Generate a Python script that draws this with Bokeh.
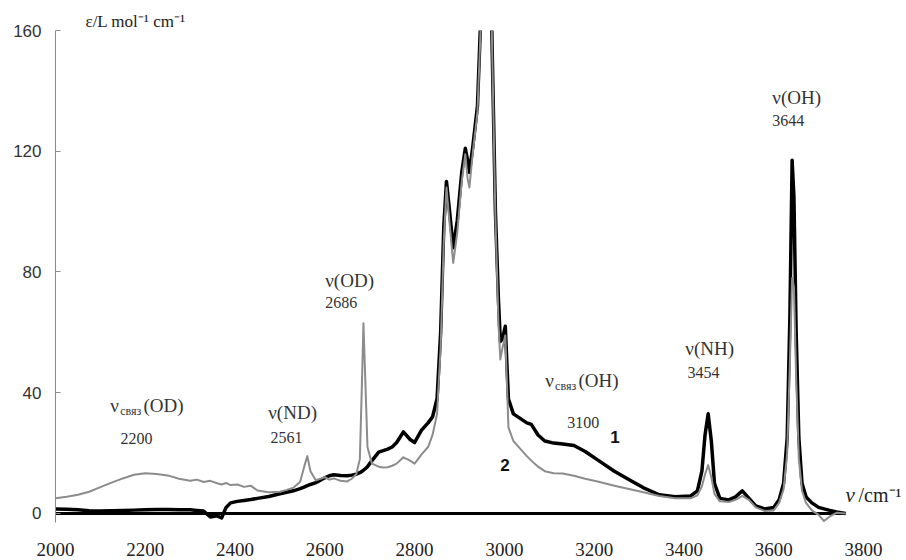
from bokeh.plotting import figure
from bokeh.models import Range1d, FixedTicker, Label
from bokeh.embed import file_html
from bokeh.resources import INLINE

# ---- data ----
wavenumber = [2000, 2025, 2050, 2075, 2100, 2125, 2150, 2175, 2200, 2225,
              2250, 2275, 2300, 2315, 2330, 2345, 2360, 2370, 2380, 2390,
              2405, 2420, 2435, 2450, 2475, 2500, 2515, 2530, 2545, 2555,
              2561, 2568, 2580, 2590, 2600, 2610, 2620, 2635, 2650, 2660,
              2670, 2678, 2683, 2686, 2690, 2695, 2705, 2720, 2730, 2740,
              2750, 2760, 2775, 2790, 2800, 2815, 2830, 2840, 2850, 2858,
              2865, 2871, 2878, 2886, 2895, 2905, 2913, 2918, 2922, 2930,
              2940, 2950, 2960, 2970, 2980, 2987, 2991, 2996, 3002, 3009,
              3020, 3035, 3050, 3060, 3075, 3090, 3110, 3130, 3155, 3180,
              3210, 3245, 3280, 3310, 3345, 3380, 3415, 3430, 3440, 3447,
              3454, 3461, 3468, 3480, 3500, 3515, 3530, 3545, 3560, 3580,
              3600, 3612, 3622, 3630, 3636, 3641, 3645, 3650, 3656, 3663,
              3672, 3685, 3700, 3712, 3725, 3740, 3760]

# curve 1 (black)
eps_1 = [1.5, 1.4, 1.2, 0.9, 0.8, 0.9, 1.0, 1.1, 1.2, 1.3,
         1.3, 1.2, 1.2, 1.0, 0.8, -1.2, -0.8, -1.5, 2.0, 3.5,
         4.0, 4.3, 4.6, 5.0, 5.6, 6.5, 7.0, 7.5, 8.2, 8.8,
         9.2, 9.6, 10.2, 11.0, 11.8, 12.5, 12.8, 12.6, 12.5, 12.7,
         13.0, 13.5, 14.0, 14.3, 14.8, 15.5, 17.5, 20.3, 20.8, 21.3,
         22.0, 23.5, 27.0, 24.5, 23.5, 27.5, 30.0, 32.0, 38.0, 60.0,
         95.0, 110.0, 100.0, 88.0, 97.0, 113.0, 121.0, 117.0, 113.0, 122.0,
         135.0, 175.0, 280.0, 175.0, 100.0, 70.0, 57.0, 58.0, 62.0, 38.0,
         33.0, 31.5, 30.0, 29.5, 26.0, 24.0, 23.3, 23.0, 22.5, 20.5,
         17.5, 14.0, 11.0, 8.5, 6.2, 5.5, 5.8, 7.5, 14.0, 26.0,
         33.0, 24.0, 10.0, 5.0, 4.5, 5.5, 7.5, 5.0, 2.5, 1.5,
         2.0, 4.5, 10.0, 25.0, 65.0, 117.0, 105.0, 60.0, 25.0, 10.0,
         5.5, 3.5, 2.0, 1.5, 1.0, 0.5, 0.0]

# curve 2 (gray)
eps_2 = [5.0, 5.5, 6.2, 7.2, 8.7, 10.2, 11.6, 12.8, 13.3, 13.1,
         12.6, 11.5, 10.8, 11.2, 10.4, 10.8, 10.0, 9.6, 10.1, 9.4,
         9.6, 8.8, 9.2, 7.6, 7.0, 7.2, 7.8, 8.5, 10.5, 16.0,
         19.0, 14.0, 11.0, 11.5, 12.0, 11.2, 11.6, 10.8, 10.6, 11.5,
         13.0, 18.0, 45.0, 63.0, 45.0, 22.0, 16.5, 15.5, 15.2, 15.3,
         15.8, 16.5, 18.6, 17.5, 16.5, 19.5, 22.0, 26.0, 33.0, 55.0,
         90.0, 108.0, 96.0, 83.0, 93.0, 110.0, 119.0, 111.0, 108.0, 120.0,
         133.0, 172.0, 280.0, 175.0, 98.0, 62.0, 51.0, 55.0, 59.0, 28.5,
         24.0, 21.5, 19.0, 17.5, 15.5, 14.0, 13.3, 13.2, 12.5, 11.5,
         10.5, 9.2, 8.0, 7.0, 5.8, 5.0, 5.0, 6.0, 9.0, 13.0,
         16.0, 12.0, 6.5, 4.0, 3.8, 4.5, 5.8, 4.5, 2.0, 0.8,
         1.0, 3.5, 8.0, 20.0, 50.0, 78.0, 75.0, 45.0, 18.0, 7.5,
         3.5, 1.0, -0.5, -2.5, -1.0, 0.2, 0.0]

x_ticks = [2000, 2200, 2400, 2600, 2800, 3000, 3200, 3400, 3600, 3800]
y_ticks = [0, 40, 80, 120, 160]

# ---- figure ----
p = figure(width=906, height=560,
           x_range=Range1d(2000, 3895.8), y_range=Range1d(-3, 160),
           output_backend="svg", toolbar_location=None,
           min_border_left=55, min_border_right=0,
           min_border_top=30, min_border_bottom=38)
p.outline_line_color = None
p.xgrid.visible = False
p.ygrid.visible = False
p.background_fill_color = "white"

# y-axis title as plot title (sits above the frame)
p.title.text = "ε/L mol⁻¹ cm⁻¹"
p.title.align = "left"
p.title.offset = 30
p.title.standoff = 0
p.title.text_font = "Liberation Serif"
p.title.text_font_size = "17px"
p.title.text_font_style = "normal"
p.title.text_color = "#222222"

# x axis: labels only
p.xaxis.ticker = FixedTicker(ticks=x_ticks)
p.xaxis.axis_line_color = None
p.xaxis.major_tick_line_color = None
p.xaxis.minor_tick_line_color = None
p.xaxis.major_label_text_font = "Liberation Serif"
p.xaxis.major_label_text_font_size = "19px"
p.xaxis.major_label_text_color = "#222222"
p.xaxis.major_label_standoff = 14

# y axis
p.yaxis.ticker = FixedTicker(ticks=y_ticks)
p.yaxis.axis_line_color = "#8a8a8a"
p.yaxis.axis_line_width = 1
p.yaxis.major_tick_line_color = "#8a8a8a"
p.yaxis.major_tick_in = 5
p.yaxis.major_tick_out = 0
p.yaxis.minor_tick_line_color = None
p.yaxis.major_label_text_font = "Liberation Sans"
p.yaxis.major_label_text_font_size = "17px"
p.yaxis.major_label_text_color = "#333333"
p.yaxis.major_label_standoff = 14

# zero baseline across the measured range
p.line([wavenumber[0], wavenumber[-1]], [0, 0], line_color="black", line_width=3)

# spectra: 1 (black) below, 2 (gray) on top
p.line(wavenumber, eps_1, line_color="black", line_width=3.5, line_join="round")
p.line(wavenumber, eps_2, line_color="#8c8c8c", line_width=2, line_join="round")


def lab(x, y, text, size="19px", font="Liberation Serif", color="#333333", style="normal"):
    p.add_layout(Label(x=x, y=y, text=text, text_font=font, text_font_size=size,
                       text_color=color, text_font_style=style,
                       text_align="left", text_baseline="middle"))


# bound OD
lab(2122, 35.8, "ν")
lab(2144, 34.0, "связ", size="12px")
lab(2196, 35.8, "(OD)")
lab(2145, 24.8, "2200", size="16px")

# ND
lab(2474, 33.5, "ν(ND)")
lab(2479, 25.2, "2561", size="16px")

# OD
lab(2601, 77.2, "ν(OD)")
lab(2601, 69.9, "2686", size="16px")

# bound OH
lab(3091, 44.1, "ν")
lab(3113, 42.3, "связ", size="12px")
lab(3165, 44.1, "(OH)")
lab(3140, 30.1, "3100", size="16px")

# curve numbers
lab(3236, 25.2, "1", size="17px", font="Liberation Sans", color="#111111", style="bold")
lab(2991, 15.9, "2", size="17px", font="Liberation Sans", color="#111111", style="bold")

# NH
lab(3403, 54.7, "ν(NH)")
lab(3408, 46.7, "3454", size="16px")

# OH
lab(3597, 137.8, "ν(OH)")
lab(3597, 130.2, "3644", size="16px")

# x-axis title
lab(3760, 6.0, "ν", size="21px", style="italic", color="#222222")
lab(3789, 6.0, "/cm⁻¹", size="20px", color="#222222")

open("out.html", "w").write(file_html(p, INLINE))
